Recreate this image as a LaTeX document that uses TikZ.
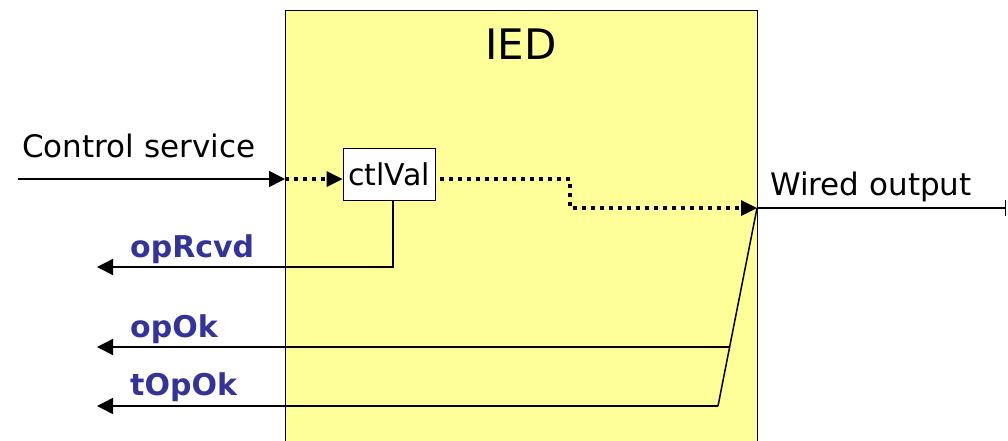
\documentclass[tikz,border=0pt]{standalone}
\usepackage{fontspec}
\setmainfont{DejaVu Sans}
\usetikzlibrary{arrows.meta}
\definecolor{iedyellow}{HTML}{FFFF99}
\definecolor{sigblue}{HTML}{333399}
\begin{document}
\begin{tikzpicture}[x=1pt,y=-1pt,
  sig/.style={line width=1.5pt},
  dots/.style={line width=3.5pt,dash pattern=on 4pt off 5pt},
  tri/.style={-{Triangle[length=16pt,width=16pt]}},
  lbl/.style={font=\fontsize{31}{36}\selectfont,inner sep=0pt,anchor=base west},
  bluelbl/.style={font=\fontsize{30}{34}\selectfont\bfseries,text=sigblue,inner sep=0pt,anchor=base west}]
\useasboundingbox (0,0) rectangle (1008,440);
\fill[white] (0,0) rectangle (1008,440);
% IED box
\draw[fill=iedyellow,line width=1pt] (285,450) -- (285,10) -- (757,10) -- (757,450);
\node[inner sep=0pt,anchor=base,font=\fontsize{42}{48}\selectfont] (ied) at (521,59) {IED};
% ctlVal box
\node[draw,fill=white,line width=1pt,minimum width=92pt,minimum height=52pt,inner sep=0pt,font=\fontsize{30}{34}\selectfont] (ctl) at (389,174) {ctlVal};
% coordinates
\coordinate (cin) at (18,179);
\coordinate (cedge) at (285,179);
\coordinate (wo) at (757,208);
\coordinate (wend) at (1006,208);
\coordinate (bend1) at (570,179);
\coordinate (bend2) at (570,208);
\coordinate (rc) at (393,267);
\coordinate (rcend) at (97,267);
\coordinate (okk) at (729,347);
\coordinate (okend) at (97,347);
\coordinate (tok) at (718,406);
\coordinate (tokend) at (97,406);
\coordinate (cw) at (ctl.west |- cedge);
\coordinate (ce) at (ctl.east |- cedge);
% control service
\draw[sig,tri] (cin) -- (cedge);
\draw[dots] (cedge) -- ([xshift=-16pt]cw);
\fill ([xshift=-16pt,yshift=-8pt]cw) -- (cw) -- ([xshift=-16pt,yshift=8pt]cw) -- cycle;
\draw[dots] ([xshift=4pt]ce) -- (bend1) -- (bend2) -- ([xshift=-16pt]wo);
\fill ([xshift=-16pt,yshift=-8pt]wo) -- (wo) -- ([xshift=-16pt,yshift=8pt]wo) -- cycle;
\draw[sig,-{Bar[width=16pt,line width=1.5pt]}] (wo) -- (wend);
% feedback lines
\draw[sig,tri] (ctl.south -| rc) -- (rc) -- (rcend);
\draw[sig] (wo) -- (tok);
\draw[sig,tri] (okk) -- (okend);
\draw[sig,tri] (tok) -- (tokend);
% labels
\node[lbl] (cs) at (22,157) {Control service};
\node[lbl] (wl) at (770,195) {Wired output};
\node[bluelbl] (l1) at (130,257) {opRcvd};
\node[bluelbl] (l2) at (130,337) {opOk};
\node[bluelbl] (l3) at (130,395) {tOpOk};
\end{tikzpicture}
\end{document}
